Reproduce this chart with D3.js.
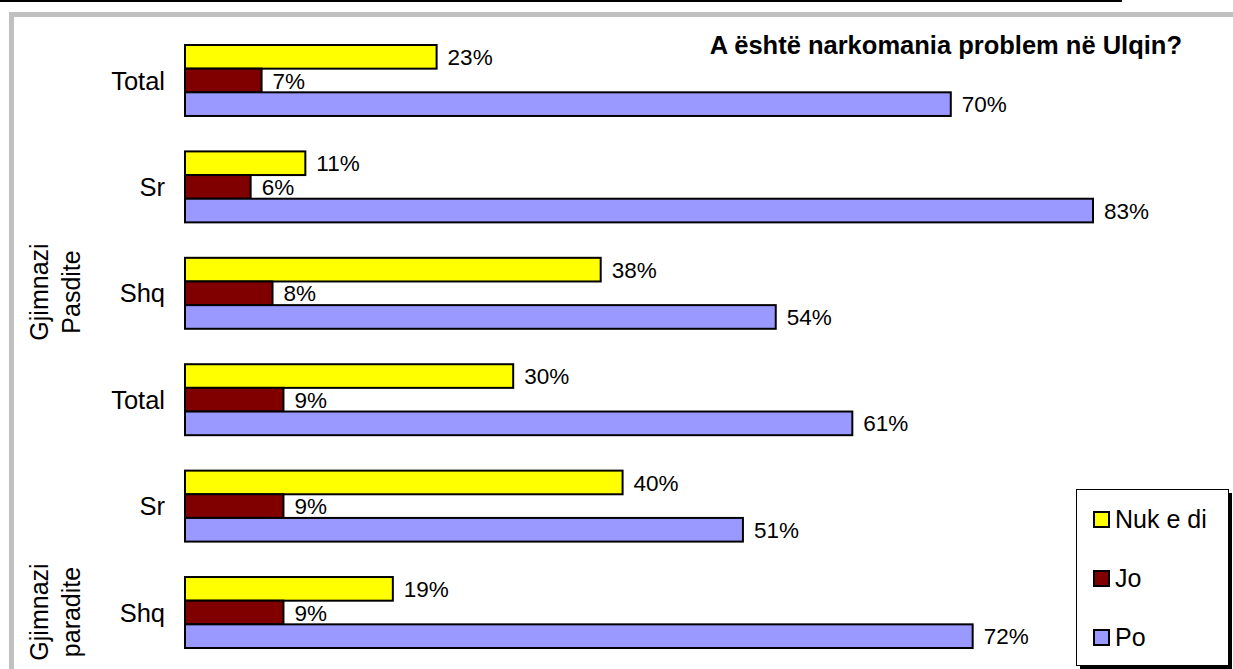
<!DOCTYPE html>
<html>
<head>
<meta charset="utf-8">
<script src="https://cdn.jsdelivr.net/npm/d3@7"></script>
<style>
  body { margin: 0; background: #fff; }
  svg { display: block; font-family: "Liberation Sans", Arial, sans-serif; }
</style>
</head>
<body>
<script>
// rows top to bottom
const categories = ["Total", "Sr", "Shq", "Total", "Sr", "Shq"];
const nukEDi = [0.23, 0.11, 0.38, 0.30, 0.40, 0.19];
const jo     = [0.07, 0.06, 0.08, 0.09, 0.09, 0.09];
const po     = [0.70, 0.83, 0.54, 0.61, 0.51, 0.72];
const seriesNames = ["Nuk e di", "Jo", "Po"];
const seriesColors = ["#ffff00", "#800000", "#9999ff"];
const groupLabels = [["Gjimnazi", "Pasdite"], ["Gjimnazi", "paradite"]];
const title = "A është narkomania problem në Ulqin?";

const width = 1233, height = 669;
const seriesValues = [nukEDi, jo, po];

const svg = d3.select("body").append("svg")
    .attr("width", width)
    .attr("height", height);

// top rule and grey frame
svg.append("line")
    .attr("x1", 0).attr("x2", 1122)
    .attr("y1", 1).attr("y2", 1)
    .attr("stroke", "#000").attr("stroke-width", 2);
svg.append("rect")
    .attr("x", 11.5).attr("y", 14.5)
    .attr("width", 1240).attr("height", 680)
    .attr("fill", "none")
    .attr("stroke", "#c0c0c0").attr("stroke-width", 5);

const x = d3.scaleLinear()
    .domain([0, 1])
    .range([185, 185 + 908 / 0.83]);

const y = d3.scaleBand()
    .domain(d3.range(categories.length))
    .range([45, 648])
    .paddingInner(0.333)
    .paddingOuter(0);

const ySub = d3.scaleBand()
    .domain(d3.range(seriesNames.length))
    .range([0, y.bandwidth()]);

const fmt = d3.format(".0%");

const rows = svg.selectAll(".row")
    .data(categories)
    .enter().append("g")
    .attr("class", "row")
    .attr("transform", (d, i) => "translate(0," + y(i) + ")");

rows.each(function(cat, i) {
    const g = d3.select(this);
    const vals = seriesValues.map((s, k) => ({k: k, v: s[i]}));
    g.selectAll("rect")
        .data(vals)
        .enter().append("rect")
        .attr("x", x(0))
        .attr("y", d => ySub(d.k))
        .attr("width", d => x(d.v) - x(0))
        .attr("height", ySub.bandwidth())
        .attr("fill", d => seriesColors[d.k])
        .attr("stroke", "#000")
        .attr("stroke-width", 2);
    g.selectAll(".val")
        .data(vals)
        .enter().append("text")
        .attr("class", "val")
        .attr("x", d => x(d.v) + 11)
        .attr("y", d => ySub(d.k) + ySub.bandwidth() / 2)
        .attr("dy", "0.36em")
        .attr("font-size", 22.5)
        .text(d => fmt(d.v));
    g.append("text")
        .attr("x", 165)
        .attr("y", y.bandwidth() / 2)
        .attr("dy", "0.36em")
        .attr("text-anchor", "end")
        .attr("font-size", 25.5)
        .text(cat);
});

// rotated group labels
const groupCenters = [292, 612];
groupLabels.forEach((lines, gi) => {
    const t = svg.append("text")
        .attr("transform", "translate(48," + groupCenters[gi] + ") rotate(-90)")
        .attr("text-anchor", "middle")
        .attr("font-size", 25);
    lines.forEach((l, li) => {
        t.append("tspan")
            .attr("x", 0)
            .attr("dy", li === 0 ? 0 : 32)
            .text(l);
    });
});

svg.append("text")
    .attr("x", 1182)
    .attr("y", 54)
    .attr("text-anchor", "end")
    .attr("font-size", 25.5)
    .attr("font-weight", "bold")
    .text(title);

// legend
const legend = svg.append("g").attr("transform", "translate(1076,489)");
legend.append("rect")
    .attr("x", 4).attr("y", 4)
    .attr("width", 152).attr("height", 176)
    .attr("fill", "#000");
legend.append("rect")
    .attr("x", 0.5).attr("y", 0.5)
    .attr("width", 152).attr("height", 176)
    .attr("fill", "#fff")
    .attr("stroke", "#000").attr("stroke-width", 1);
const legendY = d3.scalePoint()
    .domain(d3.range(seriesNames.length))
    .range([30, 148]);
const items = legend.selectAll(".item")
    .data(seriesNames)
    .enter().append("g")
    .attr("class", "item")
    .attr("transform", (d, i) => "translate(0," + legendY(i) + ")");
items.append("rect")
    .attr("x", 18).attr("y", -7)
    .attr("width", 15).attr("height", 15)
    .attr("fill", (d, i) => seriesColors[i])
    .attr("stroke", "#000").attr("stroke-width", 2);
items.append("text")
    .attr("x", 39)
    .attr("y", 0)
    .attr("dy", "0.36em")
    .attr("font-size", 25)
    .text(d => d);
</script>
</body>
</html>
